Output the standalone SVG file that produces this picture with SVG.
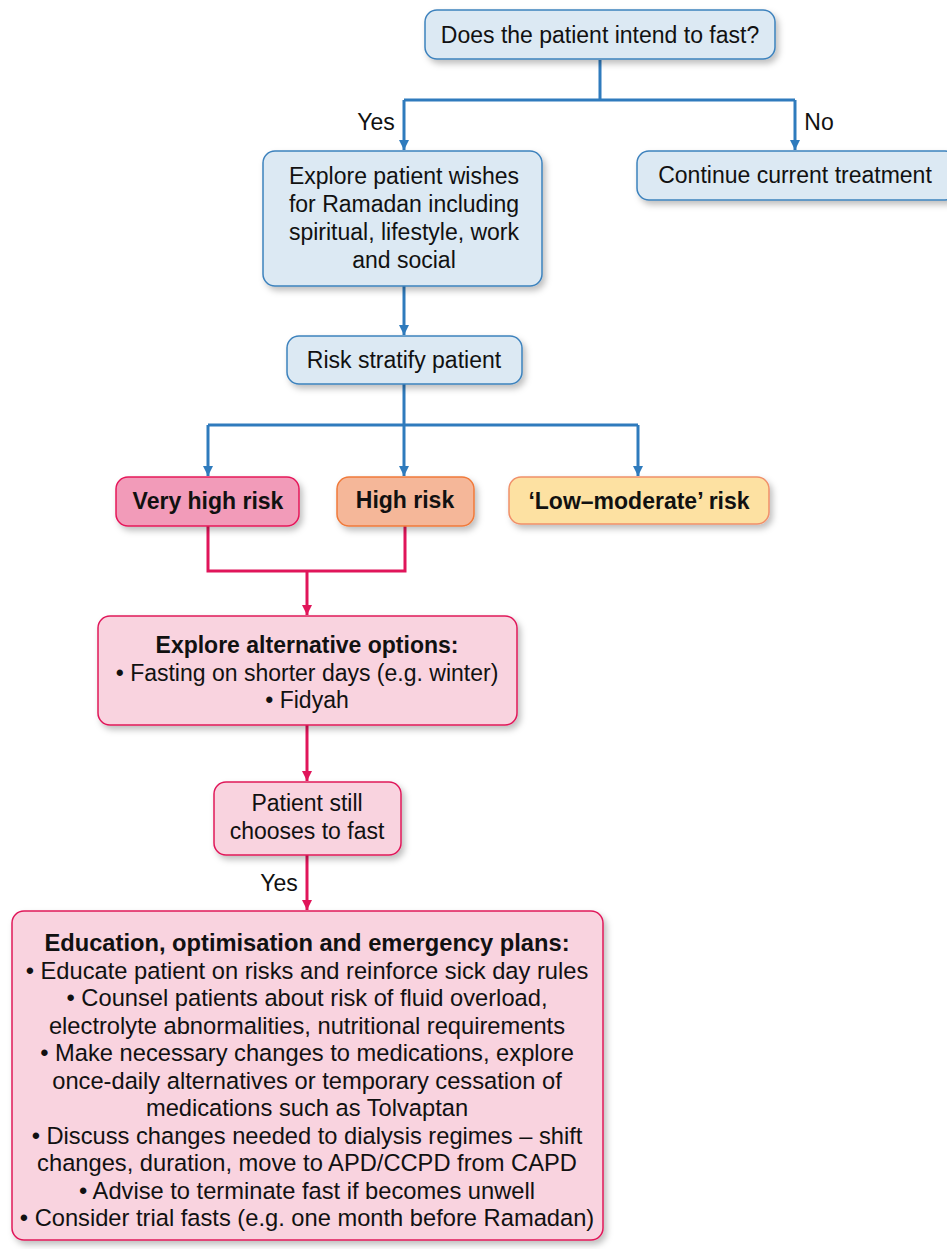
<svg xmlns="http://www.w3.org/2000/svg" width="947" height="1249" viewBox="0 0 947 1249">
<style>
text{font-family:"Liberation Sans",Arial,sans-serif;font-size:23px;fill:#111;text-anchor:middle}
.b{font-weight:bold}
.big text{font-size:23.7px}
.blue{fill:#dce9f3;stroke:#3d82bd;stroke-width:1.5}
.pink{fill:#f9d3df;stroke:#e0185a;stroke-width:1.5}
.cb{fill:none;stroke:#2f7bbd;stroke-width:3}
.cp{fill:none;stroke:#e0155a;stroke-width:3}
</style>
<defs>
<filter id="sh" x="-10%" y="-10%" width="130%" height="140%">
<feDropShadow dx="3" dy="4" stdDeviation="3" flood-color="#000" flood-opacity="0.25"/>
</filter>
<marker id="ab" viewBox="0 0 10 10" refX="5" refY="10" markerWidth="10" markerHeight="10" markerUnits="userSpaceOnUse">
<path d="M0,0 L10,0 L5,10 Z" fill="#2f7bbd"/>
</marker>
<marker id="ap" viewBox="0 0 10 10" refX="5" refY="10" markerWidth="10" markerHeight="10" markerUnits="userSpaceOnUse">
<path d="M0,0 L10,0 L5,10 Z" fill="#e0155a"/>
</marker>
</defs>
<g id="connectors">
<path class="cb" d="M600,60 V100 M404,100 H795"/>
<path class="cb" d="M404,100 V150" marker-end="url(#ab)"/>
<path class="cb" d="M795,100 V150" marker-end="url(#ab)"/>
<path class="cb" d="M404,286 V335" marker-end="url(#ab)"/>
<path class="cb" d="M404,384 V425 M208,425 H638"/>
<path class="cb" d="M208,425 V476" marker-end="url(#ab)"/>
<path class="cb" d="M404,425 V476" marker-end="url(#ab)"/>
<path class="cb" d="M638,425 V476" marker-end="url(#ab)"/>
<path class="cp" d="M208,526 V571 H405 V526"/>
<path class="cp" d="M307,571 V615" marker-end="url(#ap)"/>
<path class="cp" d="M307,725 V781" marker-end="url(#ap)"/>
<path class="cp" d="M307,855 V910" marker-end="url(#ap)"/>
<text x="376" y="130">Yes</text>
<text x="819" y="130">No</text>
<text x="279" y="891">Yes</text>
</g>
<g id="n1"><rect class="blue" x="425" y="10" width="350" height="49" rx="12" filter="url(#sh)"/><text x="600" y="43">Does the patient intend to fast?</text></g>
<g id="n2"><rect class="blue" x="263" y="151" width="279" height="135" rx="12" filter="url(#sh)"/>
<text x="404" y="184">Explore patient wishes</text><text x="404" y="212">for Ramadan including</text><text x="404" y="240">spiritual, lifestyle, work</text><text x="404" y="268">and social</text></g>
<g id="n3"><rect class="blue" x="637" y="151" width="320" height="49" rx="12" filter="url(#sh)"/><text x="795" y="183">Continue current treatment</text></g>
<g id="n4"><rect class="blue" x="287" y="336" width="235" height="48" rx="12" filter="url(#sh)"/><text x="404" y="368">Risk stratify patient</text></g>
<g id="n5"><rect x="116" y="477" width="183" height="49" rx="12" fill="#f29bb9" stroke="#e5175a" stroke-width="1.5" filter="url(#sh)"/><text class="b" x="208" y="509">Very high risk</text></g>
<g id="n6"><rect x="337" y="477" width="137" height="49" rx="12" fill="#f5b799" stroke="#f07a3a" stroke-width="1.5" filter="url(#sh)"/><text class="b" x="405" y="508">High risk</text></g>
<g id="n7"><rect x="509" y="477" width="260" height="47" rx="12" fill="#fde1a2" stroke="#f0906a" stroke-width="1.5" filter="url(#sh)"/><text class="b" x="639" y="509">‘Low–moderate’ risk</text></g>
<g id="n8"><rect class="pink" x="98" y="616" width="419" height="109" rx="12" filter="url(#sh)"/>
<text class="b" x="307" y="653">Explore alternative options:</text><text x="307" y="681">• Fasting on shorter days (e.g. winter)</text><text x="307" y="708">• Fidyah</text></g>
<g id="n9"><rect class="pink" x="214" y="782" width="187" height="73" rx="12" filter="url(#sh)"/>
<text x="307" y="811">Patient still</text><text x="307" y="839">chooses to fast</text></g>
<g id="n10" class="big"><rect class="pink" x="12" y="911" width="591" height="329" rx="12" filter="url(#sh)"/>
<text class="b" x="307" y="951">Education, optimisation and emergency plans:</text>
<text x="307" y="979">• Educate patient on risks and reinforce sick day rules</text>
<text x="307" y="1006">• Counsel patients about risk of fluid overload,</text>
<text x="307" y="1034">electrolyte abnormalities, nutritional requirements</text>
<text x="307" y="1061">• Make necessary changes to medications, explore</text>
<text x="307" y="1089">once-daily alternatives or temporary cessation of</text>
<text x="307" y="1116">medications such as Tolvaptan</text>
<text x="307" y="1144">• Discuss changes needed to dialysis regimes – shift</text>
<text x="307" y="1171">changes, duration, move to APD/CCPD from CAPD</text>
<text x="307" y="1199">• Advise to terminate fast if becomes unwell</text>
<text x="307" y="1226">• Consider trial fasts (e.g. one month before Ramadan)</text></g>
</svg>
